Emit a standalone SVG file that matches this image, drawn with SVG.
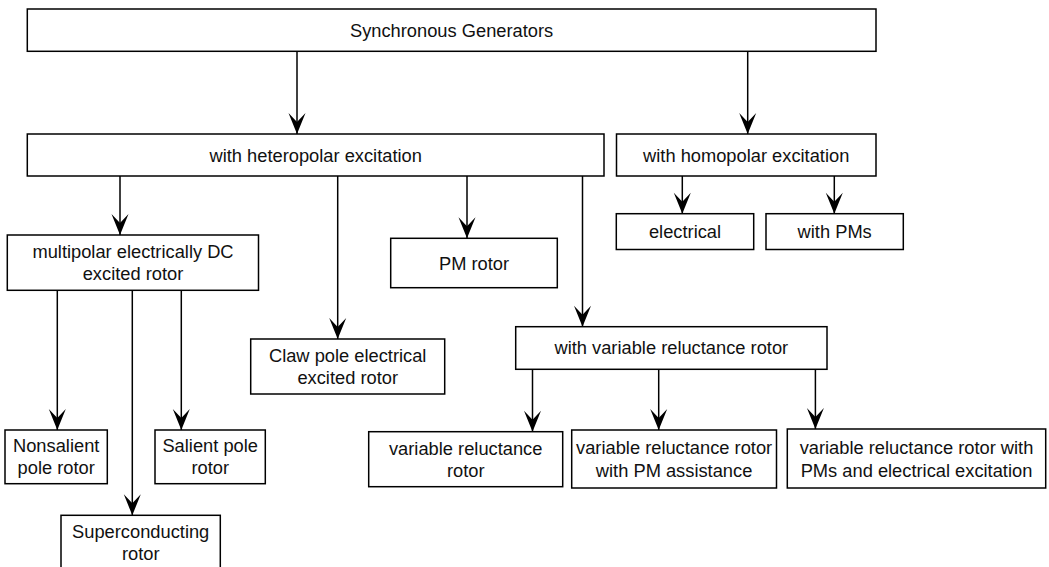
<svg xmlns="http://www.w3.org/2000/svg" width="1049" height="567" viewBox="0 0 1049 567">
<style>
.box{fill:#fff;stroke:#000;stroke-width:1.5}
.lbl{font-family:"Liberation Sans",Arial,Helvetica,sans-serif;font-size:18.3px;fill:#111;text-anchor:middle}
.edge{stroke:#000;stroke-width:1.5;fill:none;marker-end:url(#arr)}
</style>
<defs>
<marker id="arr" markerUnits="userSpaceOnUse" markerWidth="30" markerHeight="30" refX="0" refY="0" orient="auto" overflow="visible" viewBox="-25 -15 30 30">
<path d="M0,0 L-21,-8.5 L-12,0 L-21,8.5 Z" fill="#000"/>
</marker>
</defs>
<rect width="1049" height="567" fill="#fff"/>
<g id="connectors">
<line class="edge" x1="297" y1="51.3" x2="297" y2="134"/>
<line class="edge" x1="747.7" y1="51.3" x2="747.7" y2="134"/>
<line class="edge" x1="120" y1="176" x2="120" y2="235"/>
<line class="edge" x1="337.7" y1="176" x2="337.7" y2="339"/>
<line class="edge" x1="467" y1="176" x2="467" y2="238.3"/>
<line class="edge" x1="582.5" y1="176" x2="582.5" y2="326.7"/>
<line class="edge" x1="682.3" y1="176" x2="682.3" y2="213.7"/>
<line class="edge" x1="834.3" y1="176" x2="834.3" y2="213.7"/>
<line class="edge" x1="57.3" y1="290.3" x2="57.3" y2="430"/>
<line class="edge" x1="132.3" y1="290.3" x2="132.3" y2="515.3"/>
<line class="edge" x1="181.3" y1="290.3" x2="181.3" y2="430"/>
<line class="edge" x1="532.5" y1="369.3" x2="532.5" y2="431.7"/>
<line class="edge" x1="658.7" y1="369.3" x2="658.7" y2="430"/>
<line class="edge" x1="815.4" y1="369.3" x2="815.4" y2="429"/>
</g>
<g id="n-sync"><rect class="box" x="27.3" y="9" width="848.7" height="42.3"/><text class="lbl" x="451.6" y="36.7">Synchronous Generators</text></g>
<g id="n-hetero"><rect class="box" x="27.3" y="134" width="576.7" height="42"/><text class="lbl" x="315.7" y="161.7">with heteropolar excitation</text></g>
<g id="n-homo"><rect class="box" x="616.5" y="134" width="259.5" height="42"/><text class="lbl" x="746.2" y="161.7">with homopolar excitation</text></g>
<g id="n-electrical"><rect class="box" x="616.3" y="213.7" width="137.4" height="35.8"/><text class="lbl" x="685" y="238.3">electrical</text></g>
<g id="n-withpms"><rect class="box" x="766" y="213.7" width="137.3" height="35.8"/><text class="lbl" x="834.7" y="238.3">with PMs</text></g>
<g id="n-multipolar"><rect class="box" x="7.3" y="235" width="251.2" height="55.3"/><text class="lbl" x="133" y="258">multipolar electrically DC</text><text class="lbl" x="133" y="280">excited rotor</text></g>
<g id="n-pm"><rect class="box" x="390.7" y="238.3" width="166.6" height="49.4"/><text class="lbl" x="474" y="269.5">PM rotor</text></g>
<g id="n-claw"><rect class="box" x="250.7" y="339" width="194" height="55"/><text class="lbl" x="347.7" y="361.7">Claw pole electrical</text><text class="lbl" x="347.7" y="384">excited rotor</text></g>
<g id="n-vr"><rect class="box" x="515.7" y="326.7" width="311.3" height="42.6"/><text class="lbl" x="671.3" y="354.3">with variable reluctance rotor</text></g>
<g id="n-nonsalient"><rect class="box" x="5" y="430" width="102.3" height="53.7"/><text class="lbl" x="56.2" y="452.3">Nonsalient</text><text class="lbl" x="56.2" y="474">pole rotor</text></g>
<g id="n-salient"><rect class="box" x="155" y="430" width="110.3" height="53.7"/><text class="lbl" x="210.2" y="452.3">Salient pole</text><text class="lbl" x="210.2" y="474">rotor</text></g>
<g id="n-super"><rect class="box" x="61" y="515.3" width="159.3" height="55"/><text class="lbl" x="140.7" y="537.7">Superconducting</text><text class="lbl" x="140.7" y="560">rotor</text></g>
<g id="n-vr1"><rect class="box" x="368.7" y="431.7" width="194" height="55"/><text class="lbl" x="465.7" y="454.5">variable reluctance</text><text class="lbl" x="465.7" y="476.7">rotor</text></g>
<g id="n-vr2"><rect class="box" x="571.7" y="430" width="204.8" height="58"/><text class="lbl" x="674.1" y="454.3">variable reluctance rotor</text><text class="lbl" x="674.1" y="476.6">with PM assistance</text></g>
<g id="n-vr3"><rect class="box" x="787.3" y="429" width="258.4" height="59"/><text class="lbl" x="916.5" y="453.5">variable reluctance rotor with</text><text class="lbl" x="916.5" y="476.7">PMs and electrical excitation</text></g>
</svg>
